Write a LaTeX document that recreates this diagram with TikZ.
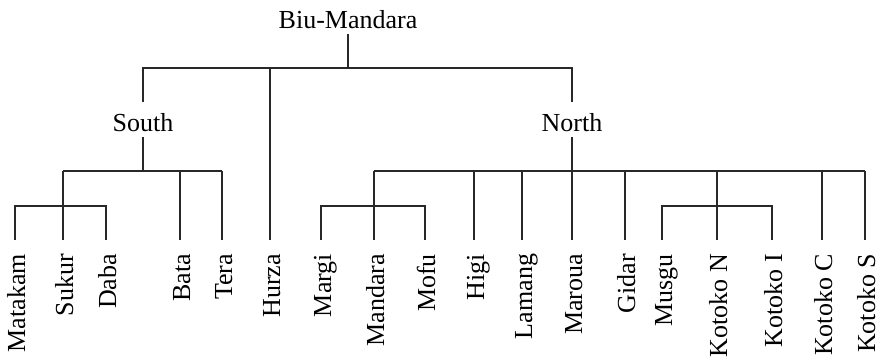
\documentclass[tikz,border=0pt]{standalone}
\usepackage{fontspec}
\setmainfont{Liberation Serif}
\definecolor{linec}{RGB}{40,40,40}
\begin{document}
\begin{tikzpicture}[x=1pt,y=-1pt,
  lbl/.style={font=\fontsize{26}{30}\selectfont, inner sep=0pt, outer sep=0pt},
  leaf/.style={lbl, rotate=90, anchor=east, text height=18pt, text depth=0pt},
  conn/.style={draw=linec, line width=1.6pt}]
\useasboundingbox (0,0) rectangle (883,357);
% inner nodes
\node[lbl, anchor=base] (BM) at (348,28) {Biu-Mandara};
\node[lbl, anchor=base] (South) at (143,131) {South};
\node[lbl, anchor=base] (North) at (572,131) {North};
% leaves
\foreach \n/\t/\x in {Matakam/Matakam/15, Sukur/Sukur/63, Daba/Daba/106, Bata/Bata/180, Tera/Tera/222, Hurza/Hurza/270,
  Margi/Margi/321, Mandara/Mandara/374, Mofu/Mofu/425, Higi/Higi/474, Lamang/Lamang/522, Maroua/Maroua/572,
  Gidar/Gidar/625, Musgu/Musgu/662, KotokoN/Kotoko N/717, KotokoI/Kotoko I/772, KotokoC/Kotoko C/822, KotokoS/Kotoko S/865}
  \node[leaf] (\n) at (\x+1,254) {\t};
% top level
\draw[conn] ([yshift=-6pt]BM.south) -- ++(0,34) coordinate (jTop);
\draw[conn] ([yshift=11pt]South.north) -- (South.north |- jTop) -- (North.north |- jTop) -- ([yshift=11pt]North.north);
\draw[conn] ([xshift=-1pt,yshift=14pt]Hurza.east) -- ([xshift=-1pt]Hurza.east |- jTop);
% South
\draw[conn] ([yshift=-6pt]South.south) -- ++(0,34) coordinate (jS);
\draw[conn] ([xshift=-1pt]Sukur.east |- jS) -- ([xshift=-1pt]Tera.east |- jS);
\draw[conn] ([xshift=-1pt,yshift=14pt]Sukur.east) -- ([xshift=-1pt]Sukur.east |- jS);
\draw[conn] ([xshift=-1pt,yshift=14pt]Bata.east) -- ([xshift=-1pt]Bata.east |- jS);
\draw[conn] ([xshift=-1pt,yshift=14pt]Tera.east) -- ([xshift=-1pt]Tera.east |- jS);
\draw[conn] ([xshift=-1pt,yshift=14pt]Matakam.east) -- ++(0,-34) coordinate (jM) -- ([xshift=-1pt]Daba.east |- jM) -- ([xshift=-1pt,yshift=14pt]Daba.east);
% North
\draw[conn] ([yshift=-6pt]North.south) -- ++(0,34) coordinate (jN);
\draw[conn] ([xshift=-1pt]Mandara.east |- jN) -- ([xshift=-1pt]KotokoS.east |- jN);
\draw[conn] ([xshift=-1pt,yshift=14pt]Mandara.east) -- ([xshift=-1pt]Mandara.east |- jN);
\draw[conn] ([xshift=-1pt,yshift=14pt]Margi.east) -- ++(0,-34) coordinate (jMa) -- ([xshift=-1pt]Mofu.east |- jMa) -- ([xshift=-1pt,yshift=14pt]Mofu.east);
\draw[conn] ([xshift=-1pt,yshift=14pt]Higi.east) -- ([xshift=-1pt]Higi.east |- jN);
\draw[conn] ([xshift=-1pt,yshift=14pt]Lamang.east) -- ([xshift=-1pt]Lamang.east |- jN);
\draw[conn] ([xshift=-1pt,yshift=14pt]Maroua.east) -- ([xshift=-1pt]Maroua.east |- jN);
\draw[conn] ([xshift=-1pt,yshift=14pt]Gidar.east) -- ([xshift=-1pt]Gidar.east |- jN);
\draw[conn] ([xshift=-1pt,yshift=14pt]KotokoN.east) -- ([xshift=-1pt]KotokoN.east |- jN);
\draw[conn] ([xshift=-1pt,yshift=14pt]Musgu.east) -- ++(0,-34) coordinate (jMu) -- ([xshift=-1pt]KotokoI.east |- jMu) -- ([xshift=-1pt,yshift=14pt]KotokoI.east);
\draw[conn] ([xshift=-1pt,yshift=14pt]KotokoC.east) -- ([xshift=-1pt]KotokoC.east |- jN);
\draw[conn] ([xshift=-1pt,yshift=14pt]KotokoS.east) -- ([xshift=-1pt]KotokoS.east |- jN);
\end{tikzpicture}
\end{document}
